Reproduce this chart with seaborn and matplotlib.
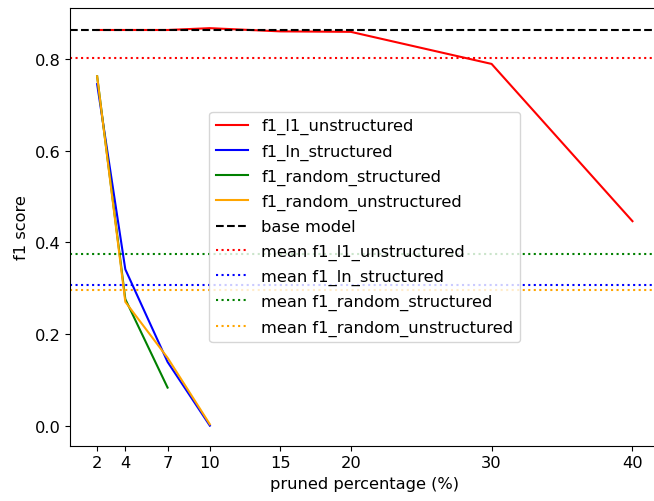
import matplotlib
matplotlib.use("Agg")
import matplotlib.pyplot as plt
import seaborn as sns
import numpy as np
import pandas as pd

pruned_l1 = [2, 4, 7, 10, 15, 20, 30, 40]
f1_l1_unstructured = [0.863, 0.863, 0.863, 0.867, 0.860, 0.859, 0.789, 0.446]

pruned_ln = [2, 4, 7, 10]
f1_ln_structured = [0.745, 0.341, 0.139, 0.0]

pruned_rs = [2, 4, 7]
f1_random_structured = [0.762, 0.276, 0.083]

pruned_ru = [2, 4, 7, 10]
f1_random_unstructured = [0.762, 0.270, 0.148, 0.003]

base_model = 0.863
xticks = [2, 4, 7, 10, 15, 20, 30, 40]

series = [
    ("f1_l1_unstructured", pruned_l1, f1_l1_unstructured, "red"),
    ("f1_ln_structured", pruned_ln, f1_ln_structured, "blue"),
    ("f1_random_structured", pruned_rs, f1_random_structured, "green"),
    ("f1_random_unstructured", pruned_ru, f1_random_unstructured, "orange"),
]

plt.rcParams["font.size"] = 11.7

fig, ax = plt.subplots(figsize=(6.54, 5.02), dpi=100)
fig.subplots_adjust(left=0.1076, right=1.008, top=0.9815, bottom=0.1105)

for name, xs, ys, c in series:
    df = pd.DataFrame({"x": xs, "y": ys})
    sns.lineplot(data=df, x="x", y="y", color=c, label=name, ax=ax)

ax.axhline(base_model, color="black", linestyle="--", label="base model")
for name, xs, ys, c in series:
    ax.axhline(np.mean(ys), color=c, linestyle=":", label="mean " + name)

ax.set_xticks(xticks)
ax.set_xlabel("pruned percentage (%)")
ax.set_ylabel("f1 score")
ax.legend(loc="center", labelspacing=0.56)
fig.savefig("out.png", dpi=100)
